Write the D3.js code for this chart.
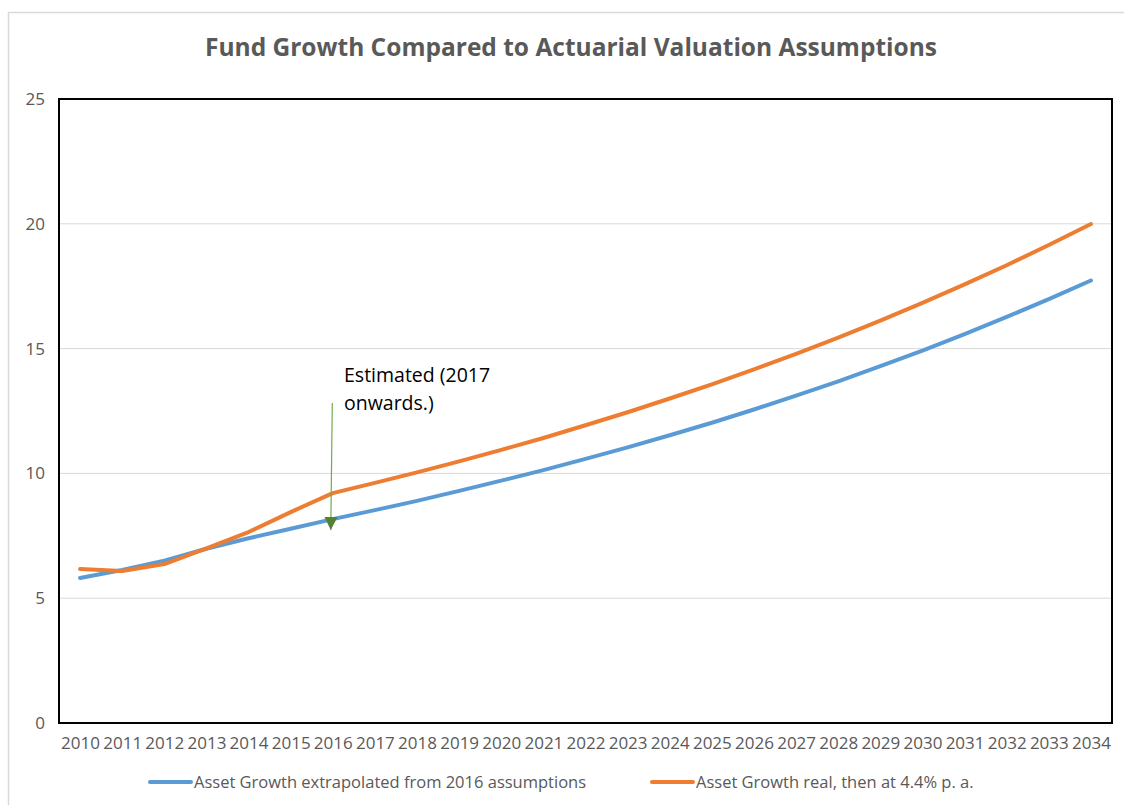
<!DOCTYPE html>
<html>
<head>
<meta charset="utf-8">
<script src="https://cdn.jsdelivr.net/npm/d3@7"></script>
<style>
  body { margin: 0; background: #fff; }
  svg { display: block; font-family: "Open Sans", sans-serif; }
</style>
</head>
<body>
<div id="chart"></div>
<script>
const years = d3.range(2010, 2035).map(String);

// Asset Growth extrapolated from 2016 assumptions
const extrapolated = [5.81, 6.13, 6.5, 6.98, 7.4, 7.78, 8.17, 8.53, 8.9, 9.3,
  9.71, 10.13, 10.58, 11.04, 11.53, 12.03, 12.56, 13.12, 13.69, 14.3,
  14.92, 15.58, 16.27, 16.98, 17.73];

// Asset Growth real, then at 4.4% p. a.
const real = [6.17, 6.09, 6.37, 7.0, 7.65, 8.45, 9.21, 9.62, 10.04, 10.48,
  10.94, 11.42, 11.93, 12.45, 13.0, 13.57, 14.17, 14.79, 15.44, 16.12,
  16.83, 17.57, 18.34, 19.15, 19.99];

const yTicks = [0, 5, 10, 15, 20, 25];

const series = [
  { name: "Asset Growth extrapolated from 2016 assumptions", values: extrapolated, color: "#5B9BD5" },
  { name: "Asset Growth real, then at 4.4% p. a.", values: real, color: "#ED7D31" },
];

const W = 1124, H = 805;
const plot = { left: 59, right: 1112, top: 99, bottom: 723 };

const svg = d3.select("#chart").append("svg")
  .attr("width", W)
  .attr("height", H);

// outer chart frame
svg.append("rect")
  .attr("x", 8.5).attr("y", 12.5)
  .attr("width", W).attr("height", H)
  .attr("fill", "#fff")
  .attr("stroke", "#d9d9d9")
  .attr("stroke-width", 1.5);

const x = d3.scalePoint()
  .domain(years)
  .range([plot.left, plot.right])
  .padding(0.5);

const y = d3.scaleLinear()
  .domain([0, 25])
  .range([plot.bottom, plot.top]);

// title
svg.append("text")
  .attr("x", 571)
  .attr("y", 56)
  .attr("text-anchor", "middle")
  .attr("font-size", 24.5)
  .attr("font-weight", "bold")
  .attr("fill", "#595959")
  .text("Fund Growth Compared to Actuarial Valuation Assumptions");

// gridlines
svg.append("g")
  .selectAll("line")
  .data(yTicks.filter((d) => d > 0 && d < 25))
  .join("line")
  .attr("x1", plot.left)
  .attr("x2", plot.right)
  .attr("y1", (d) => y(d))
  .attr("y2", (d) => y(d))
  .attr("stroke", "#d9d9d9")
  .attr("stroke-width", 1);

// y axis labels
const yAxis = svg.append("g")
  .attr("transform", `translate(${plot.left - 14},0)`)
  .call(d3.axisLeft(y).tickValues(yTicks).tickSize(0).tickPadding(0));
yAxis.select(".domain").remove();
yAxis.selectAll("text")
  .attr("font-size", 17)
  .attr("font-family", "Open Sans, sans-serif")
  .attr("fill", "#595959");

// x axis labels
const xAxis = svg.append("g")
  .attr("transform", `translate(0,${plot.bottom + 14})`)
  .call(d3.axisBottom(x).tickSize(0).tickPadding(0));
xAxis.select(".domain").remove();
xAxis.selectAll("text")
  .attr("font-size", 17)
  .attr("font-family", "Open Sans, sans-serif")
  .attr("fill", "#595959");

// plot area border
svg.append("rect")
  .attr("x", plot.left)
  .attr("y", plot.top)
  .attr("width", plot.right - plot.left)
  .attr("height", plot.bottom - plot.top)
  .attr("fill", "none")
  .attr("stroke", "#000")
  .attr("stroke-width", 2);

// lines
const line = d3.line()
  .x((d, i) => x(years[i]))
  .y((d) => y(d));

svg.append("g")
  .selectAll("path")
  .data(series)
  .join("path")
  .attr("d", (d) => line(d.values))
  .attr("fill", "none")
  .attr("stroke", (d) => d.color)
  .attr("stroke-width", 4)
  .attr("stroke-linejoin", "round")
  .attr("stroke-linecap", "round");

// annotation
const arrowX = x("2016") - 2;
svg.append("defs").append("marker")
  .attr("id", "arrowhead")
  .attr("viewBox", "0 0 10 10")
  .attr("refX", 10)
  .attr("refY", 5)
  .attr("markerWidth", 13)
  .attr("markerHeight", 13)
  .attr("markerUnits", "userSpaceOnUse")
  .attr("orient", "auto")
  .append("path")
  .attr("d", "M0,0 L10,5 L0,10 z")
  .attr("fill", "#548235");

svg.append("line")
  .attr("x1", arrowX + 1.5)
  .attr("y1", 403)
  .attr("x2", arrowX)
  .attr("y2", 530)
  .attr("stroke", "#70AD47")
  .attr("stroke-width", 1.2)
  .attr("marker-end", "url(#arrowhead)");

const note = svg.append("text")
  .attr("x", 344)
  .attr("y", 382)
  .attr("font-size", 19.5)
  .attr("fill", "#000");
note.append("tspan").attr("x", 344).text("Estimated (2017");
note.append("tspan").attr("x", 344).attr("dy", 28).text("onwards.)");

// legend
const legendPos = [150, 652];
const legend = svg.append("g")
  .selectAll("g")
  .data(series)
  .join("g")
  .attr("transform", (d, i) => `translate(${legendPos[i]},782)`);

legend.append("line")
  .attr("x1", 0)
  .attr("x2", 41)
  .attr("stroke", (d) => d.color)
  .attr("stroke-width", 4)
  .attr("stroke-linecap", "round");

legend.append("text")
  .attr("x", 44)
  .attr("dy", "0.35em")
  .attr("font-size", 16.5)
  .attr("fill", "#595959")
  .text((d) => d.name);
</script>
</body>
</html>
